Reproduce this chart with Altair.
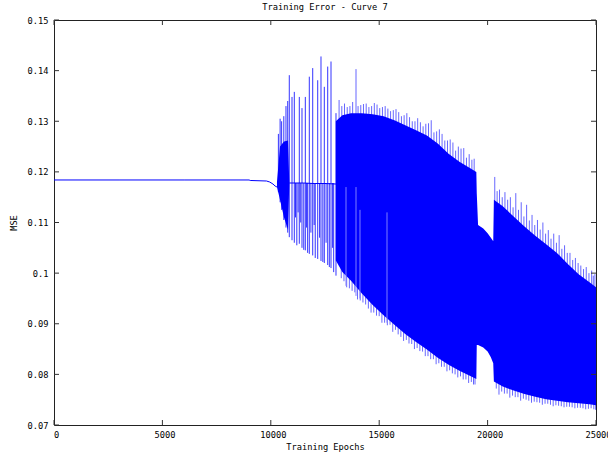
import altair as alt
import pandas as pd

# ---------------- data ----------------
X_TICKS = [0, 5000, 10000, 15000, 20000, 25000]
Y_TICKS = [0.07, 0.08, 0.09, 0.10, 0.11, 0.12, 0.13, 0.14, 0.15]

# flat start of the error curve
flat_epoch = [0, 3000, 6000, 9000, 9050, 9800, 9950, 10100, 10200, 10285]
flat_mse = [0.1184, 0.1184, 0.1184, 0.1184, 0.1183, 0.1182, 0.1180, 0.1176, 0.1172, 0.1170]

# trace between the early spikes
mid_epoch = [10853, 11500, 12000, 12500, 13010]
mid_mse = [0.1178, 0.1178, 0.1177, 0.1177, 0.1176]

# first burst of oscillation (envelope)
burst_epoch = [10285, 10425, 10610, 10795, 10853]
burst_hi = [0.1180, 0.1250, 0.1260, 0.1262, 0.1178]
burst_lo = [0.1170, 0.1145, 0.1110, 0.1085, 0.1178]

# isolated early spikes (top / bottom)
spike_epoch = [10350, 10430, 10500, 10600, 10700, 10780, 10853, 10978, 11084, 11140,
               11200, 11260, 11315, 11380, 11439, 11520, 11592, 11650, 11700, 11776,
               11850, 11933, 12000, 12050, 12164, 12250, 12315, 12400, 12468, 12550,
               12625, 12700, 12777, 12850, 12900, 13007]
spike_hi = [0.1275, 0.1305, 0.1300, 0.1310, 0.1330, 0.1340, 0.1391, 0.1348, 0.1358, 0.1178,
            0.1178, 0.1178, 0.1348, 0.1178, 0.1326, 0.1178, 0.1348, 0.1178, 0.1178, 0.1388,
            0.1178, 0.1405, 0.1178, 0.1178, 0.1381, 0.1178, 0.1428, 0.1178, 0.1368, 0.1178,
            0.1408, 0.1178, 0.1418, 0.1178, 0.1178, 0.1316]
spike_lo = [0.1160, 0.1140, 0.1125, 0.1105, 0.1090, 0.1080, 0.1071, 0.1065, 0.1060, 0.1110,
            0.1055, 0.1120, 0.1058, 0.1100, 0.1050, 0.1046, 0.1045, 0.1090, 0.1040, 0.1038,
            0.1080, 0.1035, 0.1095, 0.1030, 0.1028, 0.1070, 0.1024, 0.1022, 0.1020, 0.1060,
            0.1016, 0.1012, 0.1010, 0.1050, 0.1002, 0.0995]

# dense oscillation band (upper / lower envelope)
band_epoch = [13000, 13300, 13700, 14200, 14700, 15200, 15700, 16200, 16700,
              17200, 17700, 18200, 18700, 19200, 19480, 19500, 19560, 19800,
              20000, 20150, 20260, 20290, 20700, 21200, 21700, 22200, 22700,
              23200, 23700, 24200, 24700, 25000]
band_hi = [0.1300, 0.1312, 0.1316, 0.1316, 0.1314, 0.1310, 0.1302, 0.1292, 0.1282,
           0.1272, 0.1256, 0.1236, 0.1220, 0.1207, 0.1200, 0.1158, 0.1095, 0.1088,
           0.1079, 0.1070, 0.1063, 0.1145, 0.1132, 0.1112, 0.1092, 0.1074, 0.1057,
           0.1040, 0.1018, 0.0998, 0.0982, 0.0972]
band_lo = [0.1025, 0.1002, 0.0985, 0.0960, 0.0937, 0.0917, 0.0898, 0.0880, 0.0864,
           0.0849, 0.0833, 0.0819, 0.0807, 0.0797, 0.0791, 0.0858, 0.0858, 0.0853,
           0.0845, 0.0834, 0.0822, 0.0786, 0.0776, 0.0768, 0.0761, 0.0756, 0.0751,
           0.0748, 0.0745, 0.0743, 0.0741, 0.0739]

# fringe spikes above the band
up_epoch = [13150, 13400, 13650, 13930, 14150, 14400, 14650, 14900, 15150, 15400,
            15650, 15900, 16150, 16400, 16650, 16900, 17150, 17400, 17650, 17900,
            18150, 18400, 18650, 18900, 19150, 19380, 20330, 20550, 20800, 21050,
            21300, 21550, 21800, 22050, 22300, 22550, 22800, 23050, 23300, 23550,
            23800, 24050, 24300, 24550, 24800, 24950]
up_tip = [0.1342, 0.1335, 0.1330, 0.1403, 0.1332, 0.1335, 0.1330, 0.1333, 0.1328, 0.1325,
          0.1322, 0.1318, 0.1312, 0.1308, 0.1300, 0.1298, 0.1295, 0.1302, 0.1280, 0.1275,
          0.1262, 0.1258, 0.1250, 0.1247, 0.1235, 0.1226, 0.1190, 0.1165, 0.1160, 0.1150,
          0.1158, 0.1140, 0.1135, 0.1115, 0.1105, 0.1100, 0.1085, 0.1078, 0.1075, 0.1055,
          0.1040, 0.1030, 0.1015, 0.1012, 0.1005, 0.0998]
up2_epoch = [13275, 13525, 13775, 14025, 14275, 14525, 14775, 15025, 15275, 15525,
             15775, 16025, 16275, 16525, 16775, 17025, 17275, 17525, 17775, 18025,
             18275, 18525, 18775, 19025, 19275, 20440, 20675, 20925, 21175, 21425,
             21675, 21925, 22175, 22425, 22675, 22925, 23175, 23425, 23675, 23925,
             24175, 24425, 24675, 24875]
up2_tip = [0.1330, 0.1328, 0.1338, 0.1330, 0.1334, 0.1328, 0.1336, 0.1326, 0.1330, 0.1320,
           0.1324, 0.1310, 0.1316, 0.1300, 0.1306, 0.1290, 0.1296, 0.1278, 0.1284, 0.1262,
           0.1264, 0.1242, 0.1246, 0.1228, 0.1224, 0.1162, 0.1150, 0.1145, 0.1130, 0.1125,
           0.1112, 0.1104, 0.1095, 0.1086, 0.1078, 0.1068, 0.1060, 0.1048, 0.1040, 0.1026,
           0.1020, 0.1008, 0.1000, 0.0995]

# fringe spikes below the band
dn_epoch = [13250, 13500, 13750, 14000, 14250, 14500, 14750, 15000, 15250, 15500,
            15750, 16000, 16250, 16500, 16750, 17000, 17250, 17500, 17750, 18000,
            18250, 18500, 18750, 19000, 19250, 19420, 20400, 20650, 20900, 21150,
            21400, 21650, 21900, 22150, 22400, 22650, 22900, 23150, 23400, 23650,
            23900, 24150, 24400, 24650, 24900]
dn_tip = [0.0990, 0.0972, 0.0965, 0.0948, 0.0942, 0.0930, 0.0922, 0.0915, 0.0902, 0.0898,
          0.0888, 0.0874, 0.0868, 0.0860, 0.0852, 0.0845, 0.0836, 0.0830, 0.0822, 0.0815,
          0.0808, 0.0800, 0.0796, 0.0790, 0.0785, 0.0780, 0.0772, 0.0766, 0.0762, 0.0758,
          0.0755, 0.0752, 0.0748, 0.0746, 0.0744, 0.0742, 0.0740, 0.0739, 0.0737, 0.0736,
          0.0735, 0.0734, 0.0733, 0.0732, 0.0731]
dn2_epoch = [13375, 13625, 13875, 14125, 14375, 14625, 14875, 15125, 15375, 15625,
             15875, 16125, 16375, 16625, 16875, 17125, 17375, 17625, 17875, 18125,
             18375, 18625, 18875, 19125, 19350, 20525, 20775, 21025, 21275, 21525,
             21775, 22025, 22275, 22525, 22775, 23025, 23275, 23525, 23775, 24025,
             24275, 24525, 24775, 24980]
dn2_tip = [0.0984, 0.0970, 0.0962, 0.0946, 0.0938, 0.0922, 0.0916, 0.0902, 0.0897, 0.0884,
           0.0879, 0.0866, 0.0861, 0.0850, 0.0846, 0.0836, 0.0830, 0.0820, 0.0815, 0.0806,
           0.0802, 0.0794, 0.0790, 0.0783, 0.0780, 0.0760, 0.0762, 0.0754, 0.0755, 0.0748,
           0.0750, 0.0744, 0.0745, 0.0740, 0.0742, 0.0737, 0.0738, 0.0735, 0.0736, 0.0733,
           0.0734, 0.0731, 0.0733, 0.0730]

# light streaks running through the band
streak_epoch = [13469, 13930, 14114, 15360]
streak_hi = [0.1170, 0.1170, 0.1125, 0.1120]
streak_lo = [0.0975, 0.0955, 0.0950, 0.0902]

# ---------------- chart ----------------
W, H = 542, 405
FONT = "DejaVu Sans Mono"
BLUE = "#0000ff"
FS = 8.7

xs = alt.Scale(domain=[0, 25000], nice=False, zero=False)
ys = alt.Scale(domain=[0.07, 0.15], nice=False, zero=False)

x_axis = alt.Axis(values=X_TICKS, format="d", title="Training Epochs",
                  ticks=False, tickSize=0, domain=False, grid=False,
                  labelFlush=False, labelOverlap=False, labelPadding=5, labelOffset=2,
                  labelFont=FONT, labelFontSize=FS, labelColor="black",
                  titleFont=FONT, titleFontSize=FS, titleFontWeight="normal",
                  titleColor="black", titleX=271, titleY=21,
                  titleBaseline="middle", titleAlign="center")
y_axis = alt.Axis(values=Y_TICKS, format="~g", title="MSE",
                  ticks=False, tickSize=0, domain=False, grid=False,
                  labelFlush=False, labelOverlap=False, labelPadding=6,
                  labelFont=FONT, labelFontSize=FS, labelColor="black",
                  titleFont=FONT, titleFontSize=FS, titleFontWeight="normal",
                  titleColor="black", titleX=-41, titleY=202.5, titleAngle=270,
                  titleBaseline="middle", titleAlign="center")


def X(f="epoch"):
    return alt.X(f"{f}:Q", scale=xs, axis=x_axis)


def Y(f="mse"):
    return alt.Y(f"{f}:Q", scale=ys, axis=y_axis)


flat_df = pd.DataFrame({"epoch": flat_epoch, "mse": flat_mse})
mid_df = pd.DataFrame({"epoch": mid_epoch, "mse": mid_mse})
burst_df = pd.DataFrame({"epoch": burst_epoch, "mse": burst_hi, "mse2": burst_lo})
spike_df = pd.DataFrame({"epoch": spike_epoch, "mse": spike_hi, "mse2": spike_lo})
band_df = pd.DataFrame({"epoch": band_epoch, "mse": band_hi, "mse2": band_lo})
up_df = pd.DataFrame({"epoch": up_epoch + up2_epoch, "mse": up_tip + up2_tip})
dn_df = pd.DataFrame({"epoch": dn_epoch + dn2_epoch, "mse": dn_tip + dn2_tip})
streak_df = pd.DataFrame({"epoch": streak_epoch, "mse": streak_hi, "mse2": streak_lo})

up_rules = alt.Chart(up_df).transform_calculate(mse2="datum.mse - 0.012").mark_rule(
    color=BLUE, strokeWidth=1, opacity=0.6).encode(x=X(), y=Y(), y2="mse2:Q")
dn_rules = alt.Chart(dn_df).transform_calculate(mse2="datum.mse + 0.012").mark_rule(
    color=BLUE, strokeWidth=1, opacity=0.6).encode(x=X(), y=Y(), y2="mse2:Q")

band = alt.Chart(band_df).mark_area(color=BLUE, opacity=1, clip=True).encode(
    x=X(), y=Y(), y2="mse2:Q")
streaks = alt.Chart(streak_df).mark_rule(color="#7f7fff", strokeWidth=1).encode(
    x=X(), y=Y(), y2="mse2:Q")
burst = alt.Chart(burst_df).mark_area(color=BLUE, opacity=1).encode(
    x=X(), y=Y(), y2="mse2:Q")
spikes = alt.Chart(spike_df).mark_rule(color=BLUE, strokeWidth=1, opacity=0.8).encode(
    x=X(), y=Y(), y2="mse2:Q")
flat = alt.Chart(flat_df).mark_line(color=BLUE, strokeWidth=1).encode(x=X(), y=Y())
mid = alt.Chart(mid_df).mark_line(color=BLUE, strokeWidth=1).encode(x=X(), y=Y())

# inward tick marks on all four sides (gnuplot style)
ytick_df = pd.DataFrame({"mse": Y_TICKS})
xtick_df = pd.DataFrame({"epoch": X_TICKS})
TICK = "#333333"
yl = alt.Chart(ytick_df).mark_rule(color=TICK, strokeWidth=1).encode(
    y=Y(), x=alt.value(0), x2=alt.value(5))
yr = alt.Chart(ytick_df).mark_rule(color=TICK, strokeWidth=1).encode(
    y=Y(), x=alt.value(W - 5), x2=alt.value(W))
xb = alt.Chart(xtick_df).mark_rule(color=TICK, strokeWidth=1).encode(
    x=X(), y=alt.value(H - 5), y2=alt.value(H))
xt = alt.Chart(xtick_df).mark_rule(color=TICK, strokeWidth=1).encode(
    x=X(), y=alt.value(0), y2=alt.value(5))

chart = alt.layer(up_rules, dn_rules, band, streaks, burst, spikes, flat, mid,
                  yl, yr, xb, xt).properties(
    width=W, height=H,
    autosize="none",
    padding={"left": 54, "top": 20, "right": 12, "bottom": 30},
    title=alt.TitleParams("Training Error - Curve 7", font=FONT, fontSize=FS,
                          fontWeight="normal", color="black", anchor="middle",
                          offset=-5, baseline="bottom"),
    background="white",
).configure_view(stroke="#222222", strokeWidth=1)

chart.save("out.html", embed_options={"renderer": "svg", "actions": False})
